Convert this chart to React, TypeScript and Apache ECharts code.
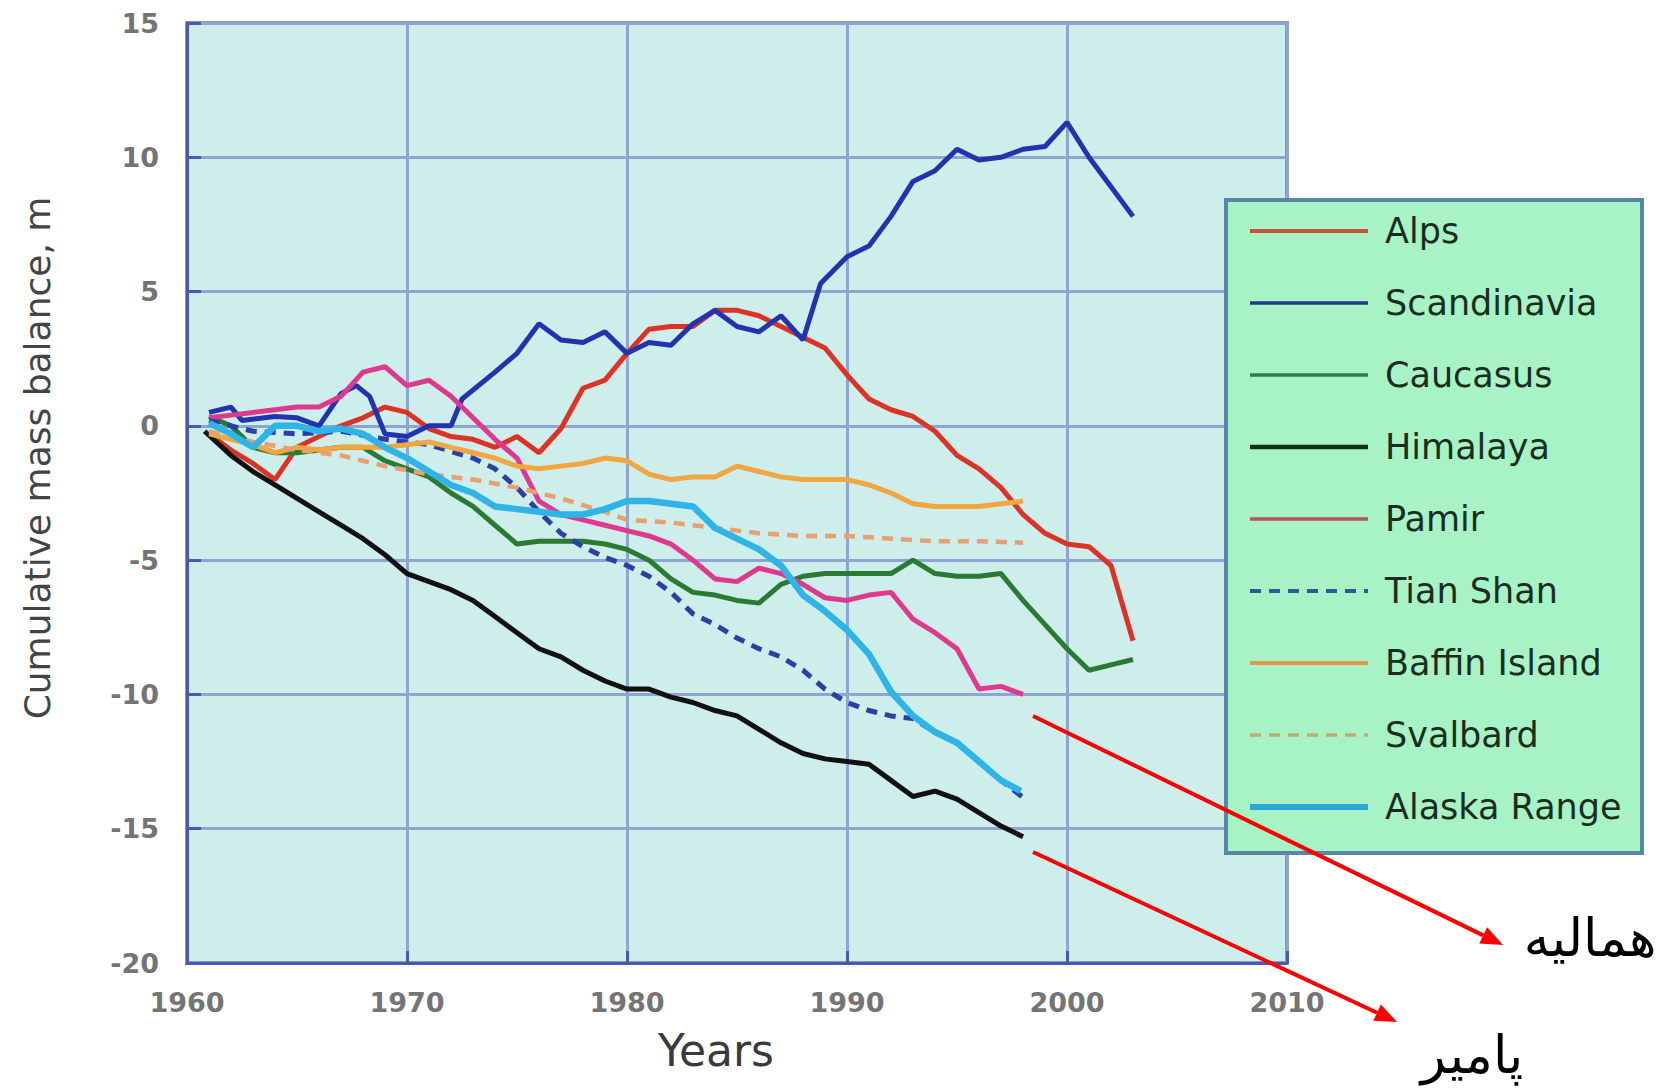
import React, { useEffect, useRef } from "react";
import * as echarts from "echarts";

// ---- data (year, cumulative mass balance in m) ----
const seriesNames = ["Alps", "Scandinavia", "Caucasus", "Himalaya", "Pamir", "Tian Shan", "Baffin Island", "Svalbard", "Alaska Range"];

const alps = [[1961,-0.3],[1962,-0.9],[1963,-1.4],[1964,-2.0],[1965,-0.8],[1966,-0.4],[1967,0.0],[1968,0.3],[1969,0.7],[1970,0.5],[1971,-0.1],[1972,-0.4],[1973,-0.5],[1974,-0.8],[1975,-0.4],[1976,-1.0],[1977,-0.1],[1978,1.4],[1979,1.7],[1980,2.7],[1981,3.6],[1982,3.7],[1983,3.7],[1984,4.3],[1985,4.3],[1986,4.1],[1987,3.7],[1988,3.3],[1989,2.9],[1990,1.9],[1991,1.0],[1992,0.6],[1993,0.35],[1994,-0.2],[1995,-1.1],[1996,-1.6],[1997,-2.3],[1998,-3.3],[1999,-4.0],[2000,-4.4],[2001,-4.5],[2002,-5.2],[2003,-8.0]];
const scandinavia = [[1961,0.5],[1962,0.7],[1962.5,0.2],[1964,0.35],[1965,0.3],[1966,0.0],[1967,1.2],[1967.7,1.5],[1968.3,1.1],[1969,-0.3],[1970,-0.4],[1971,0.0],[1972,0.0],[1972.5,1.0],[1974,2.0],[1975,2.7],[1976,3.8],[1977,3.2],[1978,3.1],[1979,3.5],[1980,2.7],[1981,3.1],[1982,3.0],[1983,3.8],[1984,4.3],[1985,3.7],[1986,3.5],[1987,4.1],[1988,3.2],[1988.8,5.3],[1990,6.3],[1991,6.7],[1992,7.8],[1993,9.1],[1994,9.5],[1995,10.3],[1996,9.9],[1997,10.0],[1998,10.3],[1999,10.4],[2000,11.3],[2001,10.0],[2002,8.9],[2003,7.8]];
const caucasus = [[1961,0.35],[1962,0.0],[1963,-0.8],[1964,-1.0],[1965,-1.0],[1966,-0.9],[1967,-0.8],[1968,-0.8],[1969,-1.3],[1970,-1.6],[1971,-1.9],[1972,-2.5],[1973,-3.0],[1974,-3.7],[1975,-4.4],[1976,-4.3],[1977,-4.3],[1978,-4.3],[1979,-4.4],[1980,-4.6],[1981,-5.0],[1982,-5.7],[1983,-6.2],[1984,-6.3],[1985,-6.5],[1986,-6.6],[1987,-5.9],[1988,-5.6],[1989,-5.5],[1990,-5.5],[1991,-5.5],[1992,-5.5],[1993,-5.0],[1994,-5.5],[1995,-5.6],[1996,-5.6],[1997,-5.5],[1998,-6.5],[1999,-7.4],[2000,-8.3],[2001,-9.1],[2002,-8.9],[2003,-8.7]];
const himalaya = [[1960.8,-0.2],[1962,-1.1],[1963,-1.7],[1964,-2.2],[1965,-2.7],[1966,-3.2],[1967,-3.7],[1968,-4.2],[1969,-4.8],[1970,-5.5],[1971,-5.8],[1972,-6.1],[1973,-6.5],[1974,-7.1],[1975,-7.7],[1976,-8.3],[1977,-8.6],[1978,-9.1],[1979,-9.5],[1980,-9.8],[1981,-9.8],[1982,-10.1],[1983,-10.3],[1984,-10.6],[1985,-10.8],[1986,-11.3],[1987,-11.8],[1988,-12.2],[1989,-12.4],[1990,-12.5],[1991,-12.6],[1992,-13.2],[1993,-13.8],[1994,-13.6],[1995,-13.9],[1996,-14.4],[1997,-14.9],[1998,-15.3]];
const pamir = [[1961,0.3],[1962,0.4],[1963,0.5],[1964,0.6],[1965,0.7],[1966,0.7],[1967,1.1],[1968,2.0],[1969,2.2],[1970,1.5],[1971,1.7],[1972,1.1],[1973,0.3],[1974,-0.5],[1975,-1.2],[1976,-2.8],[1977,-3.3],[1978,-3.5],[1979,-3.7],[1980,-3.9],[1981,-4.1],[1982,-4.4],[1983,-5.0],[1984,-5.7],[1985,-5.8],[1986,-5.3],[1987,-5.5],[1988,-5.9],[1989,-6.4],[1990,-6.5],[1991,-6.3],[1992,-6.2],[1993,-7.2],[1994,-7.7],[1995,-8.3],[1996,-9.8],[1997,-9.7],[1998,-10.0]];
const tianShan = [[1961,0.2],[1962,0.0],[1963,-0.2],[1965,-0.3],[1967,-0.2],[1969,-0.5],[1971,-0.7],[1973,-1.2],[1974,-1.6],[1975,-2.3],[1976,-3.2],[1977,-4.0],[1978,-4.5],[1979,-4.9],[1980,-5.2],[1981,-5.6],[1982,-6.2],[1983,-7.0],[1984,-7.4],[1985,-7.9],[1986,-8.3],[1987,-8.6],[1988,-9.1],[1989,-9.8],[1990,-10.3],[1991,-10.6],[1992,-10.8],[1993,-10.9],[1994,-11.4],[1995,-11.8],[1996,-12.5],[1997,-13.2],[1998.1,-13.9]];
const baffinIsland = [[1961,-0.3],[1962,-0.5],[1963,-0.7],[1964,-1.0],[1965,-0.8],[1966,-0.9],[1967,-0.8],[1968,-0.8],[1969,-0.8],[1970,-0.7],[1971,-0.6],[1972,-0.8],[1973,-1.0],[1974,-1.2],[1975,-1.5],[1976,-1.6],[1977,-1.5],[1978,-1.4],[1979,-1.2],[1980,-1.3],[1981,-1.8],[1982,-2.0],[1983,-1.9],[1984,-1.9],[1985,-1.5],[1986,-1.7],[1987,-1.9],[1988,-2.0],[1989,-2.0],[1990,-2.0],[1991,-2.2],[1992,-2.5],[1993,-2.9],[1994,-3.0],[1995,-3.0],[1996,-3.0],[1997,-2.9],[1998,-2.8]];
const svalbard = [[1961,-0.2],[1963,-0.6],[1965,-0.9],[1967,-1.1],[1969,-1.5],[1971,-1.8],[1973,-2.0],[1975,-2.3],[1977,-2.7],[1979,-3.2],[1980,-3.5],[1982,-3.6],[1984,-3.8],[1986,-4.0],[1988,-4.1],[1990,-4.1],[1992,-4.2],[1994,-4.3],[1996,-4.3],[1998,-4.35]];
const alaskaRange = [[1961,0.1],[1962,-0.3],[1963,-0.8],[1964,0.0],[1965,0.0],[1966,-0.2],[1967,-0.1],[1968,-0.3],[1969,-0.8],[1970,-1.2],[1971,-1.7],[1972,-2.2],[1973,-2.5],[1974,-3.0],[1975,-3.1],[1976,-3.2],[1977,-3.3],[1978,-3.3],[1979,-3.1],[1980,-2.8],[1981,-2.8],[1982,-2.9],[1983,-3.0],[1984,-3.8],[1985,-4.2],[1986,-4.6],[1987,-5.2],[1988,-6.3],[1989,-6.9],[1990,-7.6],[1991,-8.5],[1992,-9.9],[1993,-10.8],[1994,-11.4],[1995,-11.8],[1996,-12.5],[1997,-13.2],[1997.9,-13.6]];

const xTicks = { min: 1960, max: 2010, interval: 10 };
const yTicks = { min: -20, max: 15, interval: 5 };

const yTitle = "Cumulative mass balance, m";
const xTitle = "Years";
const labelHimalaya = "همالیه";
const labelPamir = "پامیر";

const seriesData = [alps, scandinavia, caucasus, himalaya, pamir, tianShan, baffinIsland, svalbard, alaskaRange];
const seriesColors = ["#dd3326", "#2233b0", "#2a7a32", "#111111", "#e0388c", "#2a3fa8", "#f2a640", "#e8a070", "#2eb4e6"];
const legendColors = ["#c9503a", "#1f3a8a", "#2f7d45", "#10301a", "#b85068", "#2a5a9a", "#e09a4a", "#c0a878", "#2aa8d8"];
const seriesDash = ["solid", "solid", "solid", "solid", "solid", "dashed", "solid", "dashed", "solid"];
const seriesWidth = [5, 5, 5, 5, 5, 5, 5, 4.5, 6.5];
const legendWidth = [4, 3.5, 3.5, 4.5, 3.5, 4, 4, 3.5, 6];

function arrow(x1: number, y1: number, x2: number, y2: number) {
  const dx = x2 - x1, dy = y2 - y1;
  const len = Math.sqrt(dx * dx + dy * dy);
  const ux = dx / len, uy = dy / len;
  const head = 22, half = 9;
  const bx = x2 - ux * head, by = y2 - uy * head;
  return [
    { type: "line", shape: { x1, y1, x2: bx, y2: by }, style: { stroke: "#ff0000", lineWidth: 4 }, z: 10 },
    {
      type: "polygon",
      shape: { points: [[x2, y2], [bx - uy * half, by + ux * half], [bx + uy * half, by - ux * half]] },
      style: { fill: "#ff0000" },
      z: 10,
    },
  ];
}

export default function App() {
  const ref = useRef<HTMLDivElement>(null);
  useEffect(() => {
    if (!ref.current) return;
    const chart = echarts.init(ref.current, null, { renderer: "svg" });
    const font = "DejaVu Sans";
    chart.setOption({
      animation: false,
      backgroundColor: "#ffffff",
      grid: {
        left: 187, top: 23, width: 1100, height: 940,
        show: true, backgroundColor: "#cdeeea", borderColor: "#8a98b8", borderWidth: 4,
      },
      xAxis: {
        type: "value", min: xTicks.min, max: xTicks.max, interval: xTicks.interval,
        axisLine: { show: true, onZero: false, lineStyle: { color: "#4a58b4", width: 3 } },
        axisTick: { show: true, inside: true, length: 12, lineStyle: { color: "#4a58b4", width: 3 } },
        splitLine: { show: true, lineStyle: { color: "#8ea4d2", width: 3 } },
        axisLabel: { margin: 26, color: "#747474", fontSize: 27, fontWeight: "bold", fontFamily: font, formatter: (v: number) => String(v) },
      },
      yAxis: {
        type: "value", min: yTicks.min, max: yTicks.max, interval: yTicks.interval,
        axisLine: { show: true, onZero: false, lineStyle: { color: "#4a58b4", width: 3 } },
        axisTick: { show: true, inside: true, length: 14, lineStyle: { color: "#4a58b4", width: 3 } },
        splitLine: { show: true, lineStyle: { color: "#8ea4d2", width: 3 } },
        axisLabel: { margin: 28, color: "#747474", fontSize: 27, fontWeight: "bold", fontFamily: font, formatter: (v: number) => String(v) },
      },
      legend: {
        orient: "vertical",
        left: 1247, top: 211,
        padding: 0,
        itemWidth: 118, itemHeight: 4, itemGap: 32,
        itemStyle: { opacity: 0 },
        textStyle: { fontFamily: font, fontSize: 35, color: "#1b2e1e", lineHeight: 40, padding: [0, 0, 0, 12] },
        data: seriesNames.map((name, i) => ({
          name,
          lineStyle: { color: legendColors[i], width: legendWidth[i] },
        })),
        z: 6,
      },
      graphic: [
        { type: "rect", shape: { x: 1226, y: 200, width: 416, height: 653 }, style: { fill: "#a8f3c6", stroke: "#5a86a6", lineWidth: 4 }, z: 3 },
        { type: "text", x: 37, y: 458, rotation: Math.PI / 2, style: { text: yTitle, fontFamily: font, fontSize: 36, fill: "#444444", align: "center", verticalAlign: "middle" } },
        { type: "text", x: 716, y: 1050, style: { text: xTitle, fontFamily: font, fontSize: 44, fill: "#3a3a3a", align: "center", verticalAlign: "middle" } },
        ...arrow(1033, 716, 1503, 945),
        ...arrow(1033, 852, 1397, 1022),
        { type: "text", x: 1590, y: 938, style: { text: labelHimalaya, fontFamily: font, fontSize: 52, fill: "#000000", align: "center", verticalAlign: "middle" }, z: 10 },
        { type: "text", x: 1472, y: 1055, style: { text: labelPamir, fontFamily: font, fontSize: 52, fill: "#000000", align: "center", verticalAlign: "middle" }, z: 10 },
      ],
      series: seriesNames.map((name, i) => ({
        name,
        type: "line",
        data: seriesData[i],
        symbol: "none",
        showSymbol: false,
        color: seriesColors[i],
        lineStyle: { color: seriesColors[i], width: seriesWidth[i], type: seriesDash[i] === "dashed" ? [11, 8] : "solid" },
        z: 2 + i * 0.01,
      })),
    });
    return () => chart.dispose();
  }, []);
  return <div ref={ref} style={{ position: "fixed", left: 0, top: 0, width: 1672, height: 1091 }} />;
}
